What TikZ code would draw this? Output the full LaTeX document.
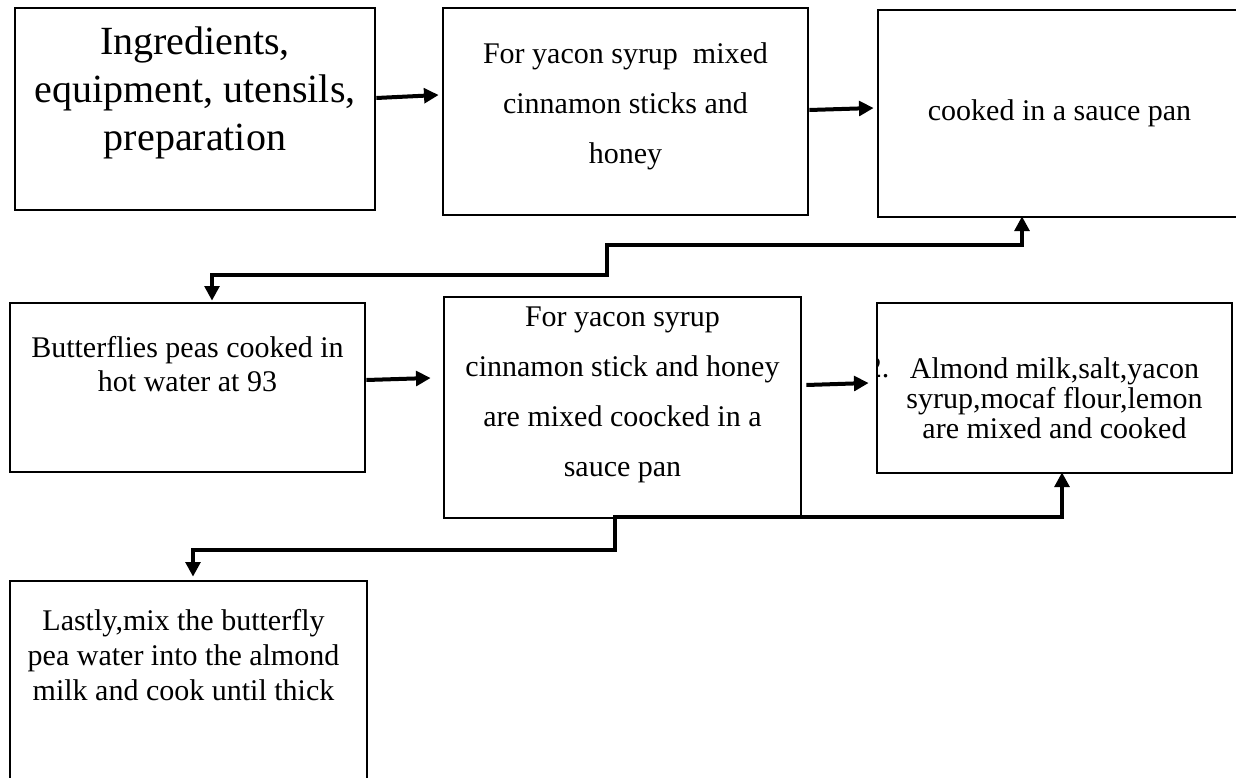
\documentclass[tikz,border=0pt]{standalone}
\usepackage{fontspec}
\setmainfont{Liberation Serif}
\usetikzlibrary{calc,arrows.meta}
\tikzset{
  box/.style={draw=black, line width=2pt, inner sep=0pt, rectangle},
  txt/.style={align=center, inner sep=0pt, font=\fontsize{22.5pt}{#1}\selectfont},
  txt/.default={37.5pt},
  big/.style={align=center, inner sep=0pt, font=\fontsize{30pt}{36pt}\selectfont},
  link/.style={draw=black, line width=3pt, -{Triangle[length=11pt,width=11pt]}},
  both/.style={link, {Triangle[length=11pt,width=11pt]}-{Triangle[length=11pt,width=11pt]}},
}

\begin{document}
\begin{tikzpicture}[x=0.75pt, y=-0.75pt]
  \useasboundingbox (0,0) rectangle (1236,778);
  \fill[white] (0,0) rectangle (1236,778);
  \clip (0,0) rectangle (1236,778);
  % the list number, cut off at the left side of its box
  \begin{scope}
    \clip (877,303) rectangle (905,473);
    \node[txt] (n2) at (878,368) {2.};
  \end{scope}
  % boxes, positions in pixels of the sheet
  \node[box, minimum width=270pt, minimum height=151.5pt] (b1) at (195,109) {};
  \node[box, minimum width=273.75pt, minimum height=155.25pt] (b2) at (625.5,111.5) {};
  \node[box, minimum width=279pt, minimum height=155.25pt] (b3) at (1064,113.5) {};
  \node[box, minimum width=266.25pt, minimum height=126.75pt] (b4) at (187.5,387.5) {};
  \node[box, minimum width=267.75pt, minimum height=165.75pt] (b5) at (622.5,407.5) {};
  \node[box, minimum width=266.25pt, minimum height=127.5pt] (b6) at (1054.5,388) {};
  \node[box, minimum width=267.75pt, minimum height=179.25pt] (b7) at (188.5,700.5) {};
  % texts
  \node[big] (t1) at (195,93) {Ingredients,\\equipment, utensils,\\preparation};
  \node[txt] (t2) at (625.5,106) {For yacon syrup\ \ mixed\\cinnamon sticks and\\honey};
  \node[txt] (t3) at (1059.5,113) {cooked in a sauce pan};
  \node[txt=25.5pt] (t4) at (187.5,364) {Butterflies peas cooked in\\hot water at 93};
  \node[txt] (t5) at (622.5,395) {For yacon syrup\\cinnamon stick and honey\\are mixed coocked in a\\sauce pan};
  \node[txt=22.5pt] (t6) at (1054.5,398) {Almond milk,salt,yacon\\syrup,mocaf flour,lemon\\are mixed and cooked};
  \node[txt=26pt] (t7) at (183.5,655) {Lastly,mix the butterfly\\pea water into the almond\\milk and cook until thick};
  % bends of the long connectors
  \coordinate (k1) at (607,245);
  \coordinate (k2) at (607,275);
  \coordinate (k3) at (615,517);
  \coordinate (k4) at (615,550);
  % connectors
  \draw[link] ($(b1.east)+(0,-11)$) -- ($(b2.west)+(-3,-16.5)$);
  \draw[link] ($(b2.east)+(0,-1.5)$) -- ($(b3.west)+(-3,-5.5)$);
  \draw[both] ($(b3.south)+(-42,-2)$) |- (k1) -- (k2) -| ($(b4.north)+(24.5,-1)$);
  \draw[link] ($(b4.east)+(0,-7.5)$) -- ($(b5.west)+(-12,-29.5)$);
  \draw[link] ($(b5.east)+(4,-22.5)$) -- ($(b6.west)+(-7,-5)$);
  \draw[both] ($(b6.south)+(7.5,-2)$) |- (k3) -- (k4) -| ($(b7.north)+(4.5,-3)$);
\end{tikzpicture}
\end{document}
